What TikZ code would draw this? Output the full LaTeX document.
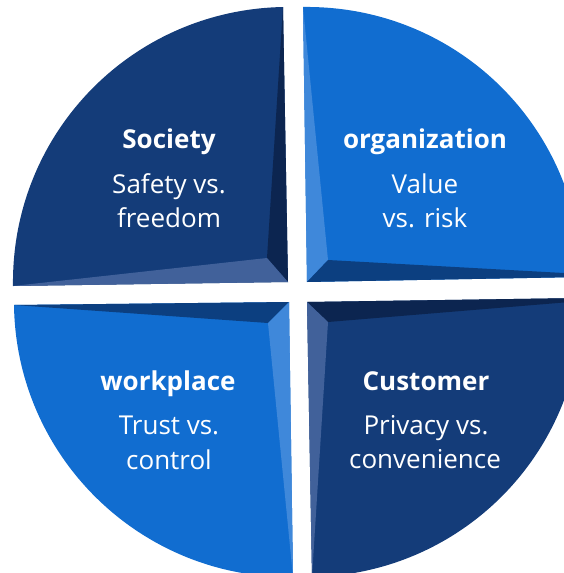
\documentclass[tikz,border=0pt]{standalone}
\usepackage{fontspec}
\setmainfont{Open Sans}
\newfontfamily\titlefont{Open Sans}
\definecolor{navy}{HTML}{143C79}
\definecolor{navydark}{HTML}{0C2550}
\definecolor{navylight}{HTML}{41619A}
\definecolor{bright}{HTML}{116DD0}
\definecolor{brightlight}{HTML}{3F88DA}
\definecolor{brightdark}{HTML}{0C3F80}
\begin{document}
\begin{tikzpicture}[x=1pt,y=-1pt,
  title/.style={anchor=base,text=white,inner sep=0pt,font=\titlefont\bfseries\fontsize{26}{26}\selectfont},
  body/.style={anchor=base,text=white,inner sep=0pt,font=\fontsize{26}{26}\selectfont}]
\useasboundingbox (0,0) rectangle (564,573);
\begin{scope}
\clip (0,0) rectangle (564,573);
% top left
\fill[navy] (13,286) .. controls (11,134) and (131,10) .. (283,7) -- (288,282) -- cycle;
\fill[navydark] (283,7) -- (288,282) -- (267,258) -- cycle;
\fill[navylight] (13,286) -- (288,282) -- (267,258) -- cycle;
% top right
\fill[bright] (303,7) .. controls (455,5) and (579,125) .. (582,277) -- (307,282) -- cycle;
\fill[brightlight] (303,7) -- (307,282) -- (328,260) -- cycle;
\fill[brightdark] (307,282) -- (328,260) -- (582,274) -- (582,277) -- cycle;
% bottom left
\fill[bright] (14,305) .. controls (16,457) and (141,579) .. (293,577) -- (289,302) -- cycle;
\fill[brightdark] (14,305) -- (289,302) -- (268,323) -- cycle;
\fill[brightlight] (289,302) -- (268,323) -- (293,577) -- cycle;
% bottom right
\fill[navy] (582,298) .. controls (584,450) and (464,574) .. (312,577) -- (307,302) -- cycle;
\fill[navydark] (307,302) -- (582,298) -- (582,301) -- (328,322) -- cycle;
\fill[navylight] (307,302) -- (328,322) -- (312,577) -- cycle;
\end{scope}
% texts
\node[title] (soc) at (169,148) {Society};
\node[body] (soc1) at (169,193) {Safety vs.};
\node[body] (soc2) at (169,227) {freedom};
\node[title] (org) at (425,148) {organization};
\node[body] (org1) at (425,193) {Value};
\node[body] (org2) at (425,227) {vs. risk};
\node[title] (wrk) at (168,390) {workplace};
\node[body] (wrk1) at (169,434) {Trust vs.};
\node[body] (wrk2) at (169,469) {control};
\node[title] (cus) at (426,390) {Customer};
\node[body] (cus1) at (426,434) {Privacy vs.};
\node[body] (cus2) at (425,468) {convenience};
\end{tikzpicture}
\end{document}
